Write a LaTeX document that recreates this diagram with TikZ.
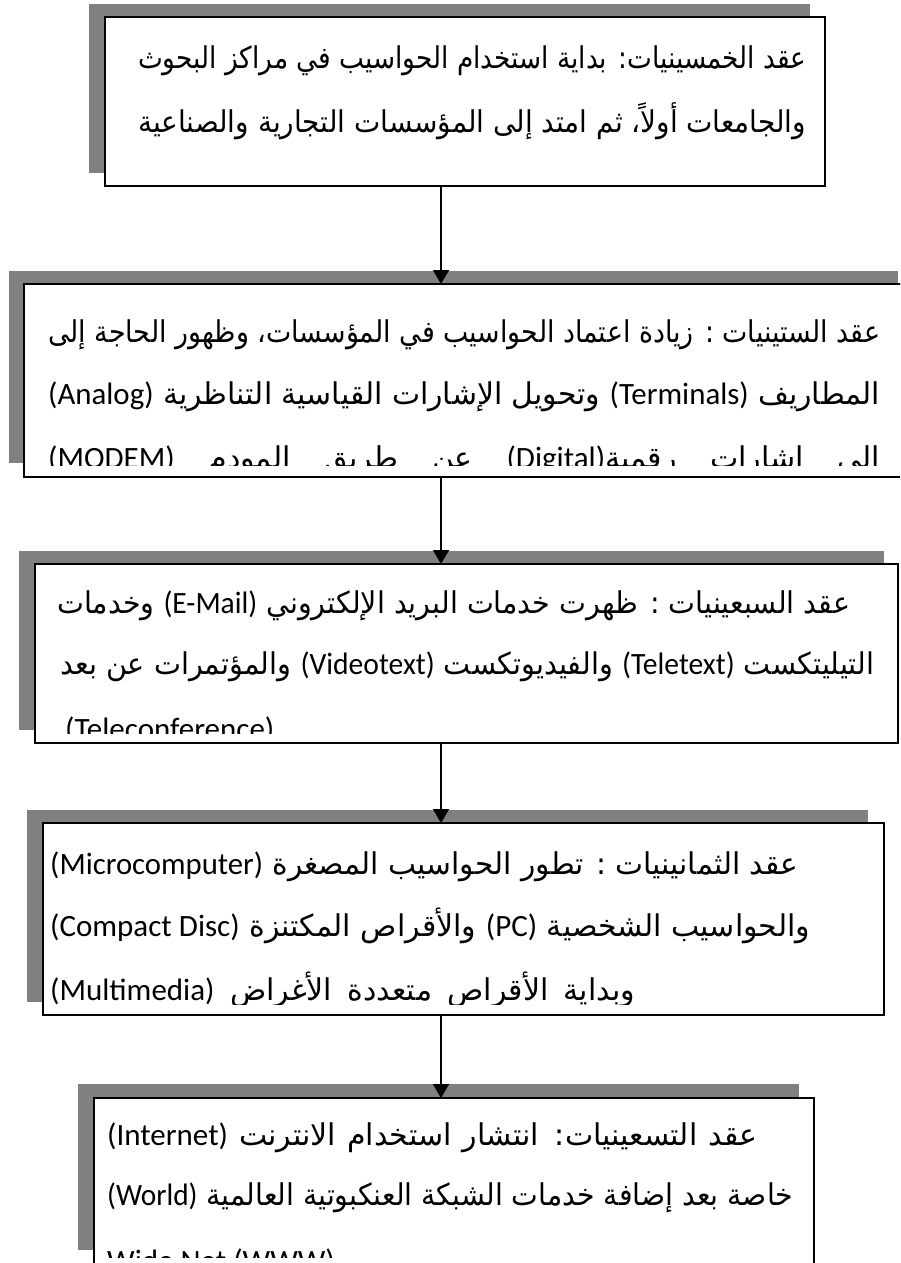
\documentclass[tikz,border=0pt]{standalone}
\usepackage{fontspec}
\usetikzlibrary{arrows.meta}
\TeXXeTstate=1
\newfontfamily\arfont[Script=Arabic]{DejaVu Sans}
\newfontfamily\latfont{Carlito}
\definecolor{shadowgray}{HTML}{808080}
\newcommand{\lt}[1]{\beginL{\latfont\fontsize{31}{36}\selectfont #1}\endL}
\newsavebox\linebox
\newcommand{\rtl}[2]{\sbox\linebox{#2}%
  \ifdim\wd\linebox>#1\relax\resizebox{#1}{\ht\linebox}{\usebox\linebox}%
  \else\makebox[#1][s]{#2}\fi}
\tikzset{
  shadowbox/.style={fill=shadowgray},
  whitebox/.style={draw=black, line width=1.6pt, fill=white, inner sep=0pt, outer sep=0pt},
  conn/.style={line width=1.5pt, -{Triangle[length=14pt,width=16pt]}},
  rl/.style={inner sep=0pt, anchor=base west, font=\arfont\fontsize{30}{36}\selectfont},
  ll/.style={inner sep=0pt, anchor=base west, font=\latfont\fontsize{31}{36}\selectfont},
}
\begin{document}
\begin{tikzpicture}[x=1pt,y=-1pt]
\clip (0,0) rectangle (900,1263);
\fill[white] (0,0) rectangle (900,1263);
% shadows
\fill[shadowbox] (89,4) rectangle (810,173);
\fill[shadowbox] (9,271) rectangle (898,463);
\fill[shadowbox] (19,551) rectangle (884,730);
\fill[shadowbox] (27,810) rectangle (868,1002);
\fill[shadowbox] (78,1084) rectangle (799,1250);
% boxes
\node[whitebox, minimum width=720pt, minimum height=169pt] (b1) at (465,101.5) {};
\node[whitebox, minimum width=886pt, minimum height=193pt] (b2) at (467,380.5) {};
\node[whitebox, minimum width=863pt, minimum height=179pt] (b3) at (466.5,653.5) {};
\node[whitebox, minimum width=841pt, minimum height=192pt] (b4) at (463.5,919) {};
\node[whitebox, minimum width=720pt, minimum height=182pt] (b5) at (454,1189) {};
% texts
\begin{scope}
\clip (106,18) rectangle (824,185);
\node[rl] (t11) at (138,68) {\rtl{668pt}{\beginR عقد الخمسينيات: بداية استخدام الحواسيب في مراكز البحوث\endR}};
\node[rl] (t12) at (138,132) {\rtl{668pt}{\beginR والجامعات أولاً، ثم امتد إلى المؤسسات التجارية والصناعية\endR}};
\end{scope}
\begin{scope}
\clip (25,285) rectangle (899,465);
\node[rl] (t21) at (48,342) {\rtl{832pt}{\beginR عقد الستينيات : زيادة اعتماد الحواسيب في المؤسسات، وظهور الحاجة إلى\endR}};
\node[rl] (t22) at (48,404) {\rtl{832pt}{\beginR المطاريف \lt{(Terminals)} وتحويل الإشارات القياسية التناظرية \lt{(Analog)}\endR}};
\node[rl] (t23) at (48,468) {\rtl{832pt}{\beginR الى اشارات رقمية\lt{(Digital)} عن طريق المودم \lt{(MODEM)}\endR}};
\end{scope}
\begin{scope}
\clip (36,565) rectangle (897,733);
\node[rl] (t31) at (57,613) {\rtl{793pt}{\beginR عقد السبعينيات : ظهرت خدمات البريد الإلكتروني \lt{(E-Mail)} وخدمات\endR}};
\node[rl] (t32) at (60,674) {\rtl{814pt}{\beginR التيليتكست \lt{(Teletext)} والفيديوتكست \lt{(Videotext)} والمؤتمرات عن بعد\endR}};
\node[ll] (t33) at (65,739) {(Teleconference)};
\end{scope}
\begin{scope}
\clip (44,824) rectangle (883,1004);
\node[rl] (t41) at (50,874) {\rtl{748pt}{\beginR عقد الثمانينيات : تطور الحواسيب المصغرة \lt{(Microcomputer)}\endR}};
\node[rl] (t42) at (50,936) {\rtl{760pt}{\beginR والحواسيب الشخصية \lt{(PC)} والأقراص المكتنزة \lt{(Compact Disc)}\endR}};
\node[rl] (t43) at (50,1000) {\rtl{585pt}{\beginR وبداية الأقراص متعددة الأغراض \lt{(Multimedia)}\endR}};
\end{scope}
\begin{scope}
\clip (95,1099) rectangle (813,1257);
\node[rl] (t51) at (107,1145) {\rtl{650pt}{\beginR عقد التسعينيات: انتشار استخدام الانترنت \lt{(Internet)}\endR}};
\node[rl] (t52) at (107,1205) {\rtl{686pt}{\beginR خاصة بعد إضافة خدمات الشبكة العنكبوتية العالمية \lt{(World)}\endR}};
\node[ll] (t53) at (107,1271) {Wide Net (WWW)};
\end{scope}
% connectors
\coordinate (ax) at (441,0);
\draw[conn] (b1.south -| ax) -- (b2.north -| ax);
\draw[conn] (b2.south -| ax) -- (b3.north -| ax);
\draw[conn] (b3.south -| ax) -- (b4.north -| ax);
\draw[conn] (b4.south -| ax) -- (b5.north -| ax);
\end{tikzpicture}
\end{document}
